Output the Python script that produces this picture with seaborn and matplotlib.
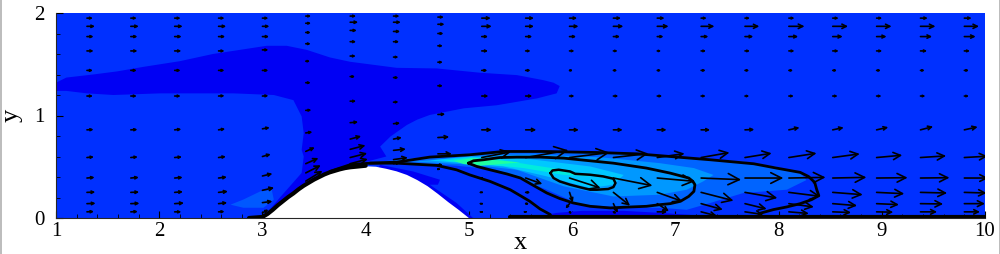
import matplotlib
matplotlib.use('Agg')
import matplotlib.pyplot as plt
import seaborn as sns
from matplotlib.lines import Line2D
from matplotlib.patches import FancyArrowPatch

### filled regions of the field (data coordinates)
blob_x = [1, 1.10, 1.36, 1.59, 1.85, 2.20, 2.52, 2.78, 3.04, 3.235, 3.43, 3.655, 3.85, 4.30, 4.69, 5.11, 5.465, 5.72, 5.82, 5.88, 5.85, 5.66, 5.27, 4.95, 4.62, 4.50, 4.40, 4.24, 4.14, 4.20, 4.01, 3.0, 3.17, 3.38, 3.40, 3.38, 3.40, 3.38, 3.30, 3.11, 2.72, 2.40, 2.01, 1.555, 1.30, 1.10, 1]
blob_y = [1.32, 1.37, 1.40, 1.43, 1.475, 1.53, 1.60, 1.64, 1.68, 1.68, 1.64, 1.566, 1.524, 1.465, 1.459, 1.417, 1.394, 1.345, 1.32, 1.287, 1.216, 1.167, 1.10, 1.07, 1.005, 0.96, 0.908, 0.795, 0.697, 0.60, 0.55, 0.0, 0.20, 0.44, 0.60, 0.665, 0.827, 0.99, 1.15, 1.20, 1.216, 1.216, 1.216, 1.20, 1.216, 1.24, 1.24]
rear_x = [4.14, 4.46, 4.72, 4.70, 4.62, 4.88, 5.04, 4.5, 4.0]
rear_y = [0.519, 0.454, 0.373, 0.325, 0.325, 0.147, 0.0, 0.0, 0.3]
floor_x = [5.6, 5.85, 6.1, 6.5, 6.85, 7.15, 7.35]
floor_y = [0.0, 0.05, 0.07, 0.07, 0.05, 0.03, 0.0]
patch_x = [2.69, 2.815, 2.98, 3.09, 3.11, 3.01, 2.815]
patch_y = [0.13, 0.18, 0.26, 0.276, 0.18, 0.10, 0.10]
wake1_x = [4.04, 4.62, 5.33, 5.72, 6.63, 6.95, 7.18, 7.66, 7.98, 8.21, 8.27, 8.08, 7.66, 7.34, 7.11, 6.85, 6.56, 6.08, 5.755, 5.27, 4.88, 4.30]
wake1_y = [0.54, 0.60, 0.65, 0.65, 0.63, 0.60, 0.584, 0.55, 0.50, 0.44, 0.37, 0.276, 0.244, 0.147, 0.08, 0.10, 0.10, 0.13, 0.276, 0.47, 0.51, 0.535]
wake2_x = [4.46, 4.95, 5.27, 5.66, 6.3, 6.85, 7.18, 7.37, 7.27, 7.11, 6.85, 6.40, 5.92, 5.465, 5.04]
wake2_y = [0.55, 0.594, 0.617, 0.62, 0.59, 0.535, 0.487, 0.42, 0.357, 0.276, 0.227, 0.21, 0.309, 0.47, 0.519]
wake3_x = [4.62, 5.01, 5.59, 6.175, 6.50, 6.40, 6.175, 5.755, 5.335, 4.95]
wake3_y = [0.561, 0.60, 0.574, 0.503, 0.42, 0.325, 0.292, 0.406, 0.503, 0.535]
wake4_x = [4.75, 5.01, 5.27, 5.59, 5.92, 6.175, 5.92, 5.53, 5.21]
wake4_y = [0.558, 0.59, 0.574, 0.52, 0.47, 0.406, 0.42, 0.487, 0.519]
wake5_x = [4.85, 5.04, 5.50, 5.11, 4.95]
wake5_y = [0.558, 0.584, 0.542, 0.51, 0.526]
hill_x = [3.0, 3.05, 3.1, 3.15, 3.2, 3.25, 3.3, 3.35, 3.4, 3.45, 3.5, 3.55, 3.6, 3.65, 3.7, 3.75, 3.8, 3.85, 3.9, 4.0, 4.1, 4.2, 4.3, 4.4, 4.5, 4.6, 4.7, 4.8, 4.9, 5.0]
hill_y = [0.0, 0.04, 0.08, 0.125, 0.165, 0.205, 0.24, 0.28, 0.315, 0.345, 0.375, 0.40, 0.425, 0.445, 0.46, 0.475, 0.487, 0.495, 0.5, 0.505, 0.5, 0.48, 0.455, 0.42, 0.37, 0.31, 0.235, 0.155, 0.08, 0.0]

### contour lines
upper_x = [3.655, 3.85, 4.04, 4.30, 4.62, 5.01, 5.335, 5.72, 6.24, 6.63, 6.95, 7.34, 7.76, 7.98, 8.21, 8.29, 8.35, 8.37, 8.39, 8.32, 8.21, 8.08, 7.95, 7.81]
upper_y = [0.455, 0.52, 0.535, 0.545, 0.594, 0.617, 0.649, 0.649, 0.639, 0.626, 0.60, 0.568, 0.529, 0.487, 0.445, 0.405, 0.348, 0.276, 0.218, 0.179, 0.14, 0.108, 0.082, 0.043]
lower_x = [4.04, 4.30, 4.69, 4.88, 5.01, 5.205, 5.40, 5.51, 5.59, 5.69, 5.79]
lower_y = [0.535, 0.535, 0.513, 0.47, 0.42, 0.357, 0.276, 0.211, 0.163, 0.088, 0.033]
inner_x = [4.995, 5.044, 5.14, 5.30, 5.465, 5.69, 5.92, 6.175, 6.40, 6.72, 6.95, 7.13, 7.17, 7.19, 7.18, 7.13, 7.05, 6.95, 6.85, 6.72, 6.50, 6.37, 6.175, 6.01, 5.88, 5.755, 5.625, 5.50, 5.367, 5.205, 5.076, 4.995]
inner_y = [0.535, 0.558, 0.568, 0.59, 0.594, 0.594, 0.584, 0.558, 0.535, 0.487, 0.438, 0.39, 0.357, 0.325, 0.26, 0.211, 0.163, 0.14, 0.13, 0.114, 0.105, 0.098, 0.114, 0.147, 0.19, 0.244, 0.318, 0.39, 0.43, 0.47, 0.503, 0.535]
loop_x = [5.79, 5.81, 5.87, 5.98, 6.03, 6.175, 6.30, 6.40, 6.42, 6.40, 6.35, 6.24, 6.175, 6.08, 5.98, 5.88, 5.82, 5.79]
loop_y = [0.438, 0.464, 0.471, 0.454, 0.431, 0.422, 0.406, 0.383, 0.341, 0.302, 0.283, 0.276, 0.276, 0.299, 0.325, 0.357, 0.39, 0.438]
wall_x = [2.87, 3.0, 3.05, 3.1, 3.15, 3.2, 3.25, 3.3, 3.35, 3.4, 3.45, 3.5, 3.55, 3.6, 3.65, 3.7, 3.75, 3.8, 3.85, 3.9, 4.0]
wall_y = [0.0, 0.01, 0.04, 0.08, 0.125, 0.165, 0.205, 0.24, 0.28, 0.315, 0.345, 0.375, 0.40, 0.425, 0.445, 0.46, 0.475, 0.487, 0.495, 0.5, 0.51]
bottom_x = [5.4, 10]
bottom_y = [0.012, 0.012]

### velocity vectors, one list per column
arrow_x = [1.3, 1.725, 2.15, 2.575, 3.0, 3.42, 3.85, 4.27, 4.7, 5.125, 5.55, 5.975, 6.4, 6.825, 7.25, 7.675, 8.1, 8.525, 8.95, 9.375, 9.8]
rows = [0.06, 0.14, 0.25, 0.39, 0.59, 0.86, 1.19, 1.44, 1.63, 1.77, 1.87, 1.95]
arrow_y = [
    rows, rows, rows, rows,
    [0.05, 0.15, 0.27, 0.41, 0.60, 0.87, 1.19, 1.44, 1.64, 1.77, 1.87, 1.95],
    [0.36, 0.44, 0.53, 0.65, 0.83, 1.05, 1.32, 1.53, 1.70, 1.81, 1.90, 1.97],
    [0.53, 0.59, 0.67, 0.77, 0.93, 1.14, 1.38, 1.58, 1.72, 1.83, 1.91, 1.97],
    [0.53, 0.57, 0.66, 0.77, 0.92, 1.13, 1.37, 1.57, 1.72, 1.82, 1.91, 1.97],
    [0.477, 0.519, 0.626, 0.785, 1.01, 1.29, 1.52, 1.68, 1.80, 1.89, 1.96],
    rows, rows, rows, rows, rows, rows, rows, rows, rows, rows, rows, rows,
]
arrow_u = [
    [21, 26, 25, 23, 21, 20, 18, 18, 20, 20, 24, 18],
    [21, 26, 25, 24, 21, 20, 18, 18, 20, 20, 24, 18],
    [20, 28, 25, 24, 22, 20, 18, 18, 20, 21, 24, 18],
    [18, 26, 28, 25, 22, 20, 18, 18, 18, 20, 23, 18],
    [18, 30, 35, 30, 25, 22, 18, 18, 18, 20, 21, 18],
    [50, 45, 38, 27, 20, 17, 15, 13, 15, 15, 16, 16],
    [53, 51, 46, 33, 24, 18, 15, 17, 18, 20, 24, 18],
    [20, 43, 37, 25, 20, 15, 15, 15, 17, 20, 22, 18],
    [8, 15, 42, 34, 22, 15, 15, 15, 17, 20, 18],
    [2, 2, 2, 3, 87, 30, 20, 17, 19, 19, 30, 27],
    [3, 10, 14, 50, 128, 32, 20, 15, 15, 20, 25, 25],
    [7, -12, 10, 93, 120, 28, 15, 10, 15, 20, 27, 23],
    [10, 13, 50, 117, 105, 28, 15, 12, 13, 20, 30, 23],
    [30, 35, 75, 113, 82, 28, 15, 12, 12, 19, 34, 22],
    [47, 65, 97, 120, 85, 27, 14, 14, 15, 22, 40, 17],
    [55, 65, 97, 115, 80, 28, 13, 13, 15, 25, 43, 15],
    [60, 75, 95, 110, 83, 32, 15, 13, 17, 28, 47, 17],
    [55, 73, 90, 101, 81, 33, 15, 13, 18, 30, 46, 18],
    [50, 67, 83, 93, 77, 35, 15, 13, 17, 30, 45, 17],
    [50, 68, 80, 87, 77, 38, 15, 13, 20, 35, 45, 22],
    [47, 62, 67, 72, 70, 40, 14, 14, 17, 34, 44, 22],
]
arrow_v = [
    [1, 1, 1, 2, 2, 1, 0, 0, 0, 0, 0, 0],
    [1, 1, 1, 2, 2, 1, 0, 0, 0, 0, 0, 0],
    [0, 2, 2, 2, 2, 2, 0, 0, 0, 0, 0, 0],
    [1, 3, 3, 3, 3, 3, 1, 0, 0, 0, 0, 0],
    [10, 4, 8, 7, 7, 4, 1, 0, 0, 0, 0, 0],
    [31, 23, 17, 12, 3, 1, 0, 0, 0, 0, 0, 0],
    [14, 13, 12, 9, 2, 0, 0, 0, 0, 0, 0, 0],
    [3, 6, 4, 5, 2, 1, 0, 0, 0, 0, 0, 0],
    [0, 0, 0, 2, 1, 0, 0, 0, 0, 0, 0],
    [0, 0, 0, 0, 17, 0, 0, 0, 0, 0, 0, 0],
    [0, 0, 0, -18, 22, 0, 0, 0, 0, 0, 0, 0],
    [-7, -15, -30, -30, 15, 0, 0, 0, 0, 0, 0, 0],
    [-5, -28, -40, -23, 12, 0, 0, 0, 0, 0, 0, 0],
    [0, -23, -27, -10, 12, 0, 0, 0, 0, 0, 0, 0],
    [-12, -18, -25, -5, 15, 0, 0, 0, 0, 0, 0, 0],
    [-8, -16, -17, 0, 13, 1, 0, 0, 0, 0, 0, 0],
    [-5, -10, -12, 2, 13, 7, 0, 0, 0, 0, 0, 0],
    [-2, -6, -7, 2, 11, 7, 0, 0, 0, 0, 0, 0],
    [-1, -3, -4, 1, 7, 8, 0, 0, 0, 0, 0, 0],
    [0, -1, -2, 1, 5, 10, 0, 0, 0, 0, 0, 0],
    [0, 0, -2, 0, 4, 9, 0, 0, 0, 0, 0, 0],
]

x_ticks = [1, 2, 3, 4, 5, 6, 7, 8, 9, 10]
y_ticks = [0, 1, 2]

sns.set_theme(style='ticks')
plt.rcParams['font.family'] = ['Liberation Serif', 'DejaVu Serif']

fig = plt.figure(figsize=(10, 2.54), dpi=100)
ax = fig.add_axes([0.056, 1 - 218 / 254, 0.929, 205 / 254])
ax.set_facecolor('#0030ff')

for xs, ys, colour in [(blob_x, blob_y, '#0000f4'), (rear_x, rear_y, '#0000f4'), (floor_x, floor_y, '#0000f4'),
                       (patch_x, patch_y, '#0058ff'), (wake1_x, wake1_y, '#0064ff'), (wake2_x, wake2_y, '#0098ff'),
                       (wake3_x, wake3_y, '#00c8ff'), (wake4_x, wake4_y, '#00ecdc'), (wake5_x, wake5_y, '#20ffa0')]:
    ax.fill(xs, ys, color=colour, lw=0)
ax.fill(hill_x, hill_y, color='white', lw=0, zorder=2)

# contour lines go through seaborn, keeping the point order
for xs, ys, width in [(upper_x, upper_y, 2.0), (lower_x, lower_y, 2.0), (inner_x, inner_y, 2.0), (loop_x, loop_y, 1.8),
                      (wall_x, wall_y, 3.0), (bottom_x, bottom_y, 3.0)]:
    sns.lineplot(x=xs, y=ys, sort=False, estimator=None, color='black', lw=width, ax=ax, zorder=3)

for x0, ys, us, vs in zip(arrow_x, arrow_y, arrow_u, arrow_v):
    for y0, u, v in zip(ys, us, vs):
        size = 0.24 * (u ** 2 + v ** 2) ** 0.5
        style = f'->,head_length={0.28 * size:.2f},head_width={0.14 * size:.2f}'
        ax.add_patch(FancyArrowPatch((x0, y0), (x0 + u * 0.00323, y0 + v * 0.00324), arrowstyle=style,
                                     mutation_scale=1, shrinkA=0, shrinkB=0, lw=1.2, color='black', zorder=4))

ax.set_xlim(1, 10)
ax.set_ylim(0, 2)
ax.set_xticks(x_ticks)
ax.set_yticks(y_ticks)
ax.set_xticks([1 + 0.2 * i for i in range(46)], minor=True)
ax.set_yticks([0.2 * i for i in range(11)], minor=True)
ax.tick_params(which='major', direction='in', length=5, width=0.8, pad=3, color='black', top=False, right=False)
ax.tick_params(axis='x', which='major', labelsize=15, pad=3)
ax.tick_params(axis='y', which='major', labelsize=15, pad=8)
ax.tick_params(which='minor', direction='in', length=3, width=0.6, color='black', top=False, right=False)
ax.set_xlabel('x', fontsize=19, color='black')
ax.set_ylabel('y', fontsize=19, color='black')
ax.xaxis.set_label_coords(0.5, -0.07)
ax.yaxis.set_label_coords(-0.036, 0.5)
for label in ax.get_xticklabels() + ax.get_yticklabels():
    label.set_color('black')
sns.despine(ax=ax, top=True, right=True)
ax.spines['left'].set_linewidth(0.8)
ax.spines['bottom'].set_linewidth(0.8)

# grey page edges in the source image
fig.add_artist(Line2D([0.001, 0.001], [0, 1], color='#b0b0b0', lw=1.2))
fig.add_artist(Line2D([0.9995, 0.9995], [0, 1], color='#b0b0b0', lw=1.2))

fig.savefig('out.png', dpi=100)
